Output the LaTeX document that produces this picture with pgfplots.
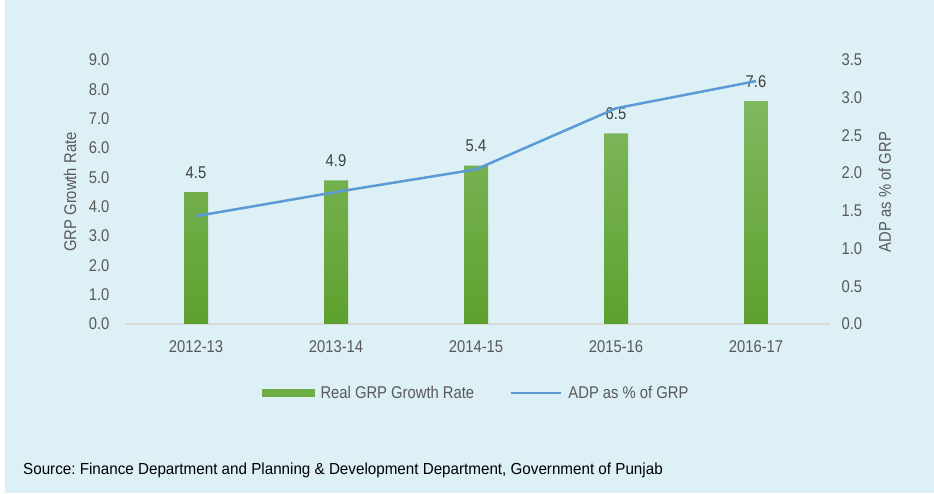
\documentclass[border=0pt]{standalone}
\usepackage{fontspec}
\setmainfont{Liberation Sans}
\newfontfamily\narrowfont[FakeStretch=0.87]{Liberation Sans}
\newfontfamily\srcfont[FakeStretch=0.95]{Liberation Sans}
\usepackage{pgfplots}
\pgfplotsset{compat=1.18}
\definecolor{bg}{RGB}{220,240,245}
\definecolor{gtop}{RGB}{128,184,96}
\definecolor{gbot}{RGB}{94,160,46}
\definecolor{gmid}{RGB}{110,172,70}
\definecolor{lblue}{RGB}{91,155,213}
\definecolor{tgrey}{RGB}{89,89,89}
\definecolor{agrey}{RGB}{217,217,217}
\pgfplotsset{/pgf/number format/assume math mode=true}
\newcommand{\cf}{\narrowfont\fontsize{17pt}{20pt}\selectfont}
\begin{document}
\frenchspacing
\begin{tikzpicture}[x=1pt,y=1pt]
\useasboundingbox (0,0) rectangle (934,493);
\fill[white] (0,0) rectangle (934,493);
\fill[bg] (5,0) rectangle (934,493);
\begin{axis}[
  at={(126pt,169pt)}, anchor=south west,
  width=700pt, height=264pt, scale only axis,
  xmin=-0.5, xmax=4.5, ymin=0, ymax=9,
  axis x line*=bottom, axis y line*=left,
  x axis line style={agrey, line width=1.8pt, -, shorten <=-1pt, shorten >=-4pt},
  y axis line style={draw=none},
  tick style={draw=none},
  xtick={0,1,2,3,4},
  xticklabels={2012-13,2013-14,2014-15,2015-16,2016-17},
  ytick={0,1,2,3,4,5,6,7,8,9},
  yticklabel style={/pgf/number format/fixed, /pgf/number format/fixed zerofill, /pgf/number format/precision=1, xshift=-13pt},
  xticklabel style={yshift=-13pt},
  tick label style={font=\cf, text=tgrey},
  ylabel={GRP Growth Rate},
  every axis y label/.style={at={(axis description cs:-0.08,0.5)}, rotate=90, anchor=center, font=\cf, text=tgrey},
  nodes near coords,
  nodes near coords style={font=\cf, text=black!75, yshift=10pt, /pgf/number format/fixed, /pgf/number format/fixed zerofill, /pgf/number format/precision=1},
]
\addplot[ybar, bar width=24pt, draw=none, top color=gtop, bottom color=gbot]
  coordinates {(0,4.5) (1,4.9) (2,5.4) (3,6.5) (4,7.6)};
\end{axis}
\begin{axis}[
  at={(126pt,169pt)}, anchor=south west,
  width=700pt, height=264pt, scale only axis,
  xmin=-0.5, xmax=4.5, ymin=0, ymax=3.5,
  axis x line=none, axis y line*=right,
  y axis line style={draw=none},
  tick style={draw=none},
  ytick={0,0.5,1,1.5,2,2.5,3,3.5},
  yticklabel style={/pgf/number format/fixed, /pgf/number format/fixed zerofill, /pgf/number format/precision=1, xshift=12pt},
  tick label style={font=\cf, text=tgrey},
  ylabel={ADP as \% of GRP},
  every axis y label/.style={at={(axis description cs:1.084,0.5)}, rotate=90, anchor=center, font=\cf, text=tgrey},
  legend style={at={(0.5,-0.261)}, anchor=center, draw=none, fill=none, legend columns=2, font=\cf, text=tgrey, /tikz/every even column/.append style={column sep=34pt}},
  legend cell align=left,
]
\addlegendimage{legend image code/.code={\fill[gmid, draw=none] (0pt,-4pt) rectangle (53pt,4pt); \path[draw=none, fill=none] (0pt,0pt) -- (57pt,0pt);}}
\addlegendentry{Real GRP Growth Rate}
\addplot[lblue, line width=2.5pt, mark=none, legend image code/.code={\draw[lblue, line width=2.5pt] (0pt,0pt) -- (50pt,0pt); \path[draw=none, fill=none] (0pt,0pt) -- (55pt,0pt);}]
  coordinates {(0,1.43) (1,1.75) (2,2.05) (3,2.86) (4,3.22)};
\addlegendentry{ADP as \% of GRP}
\end{axis}
\node[anchor=west, inner sep=0pt, text=black, font=\srcfont\fontsize{16pt}{19pt}\selectfont] at (23,23) {Source: Finance Department and Planning \& Development Department, Government of Punjab};
\end{tikzpicture}
\end{document}
